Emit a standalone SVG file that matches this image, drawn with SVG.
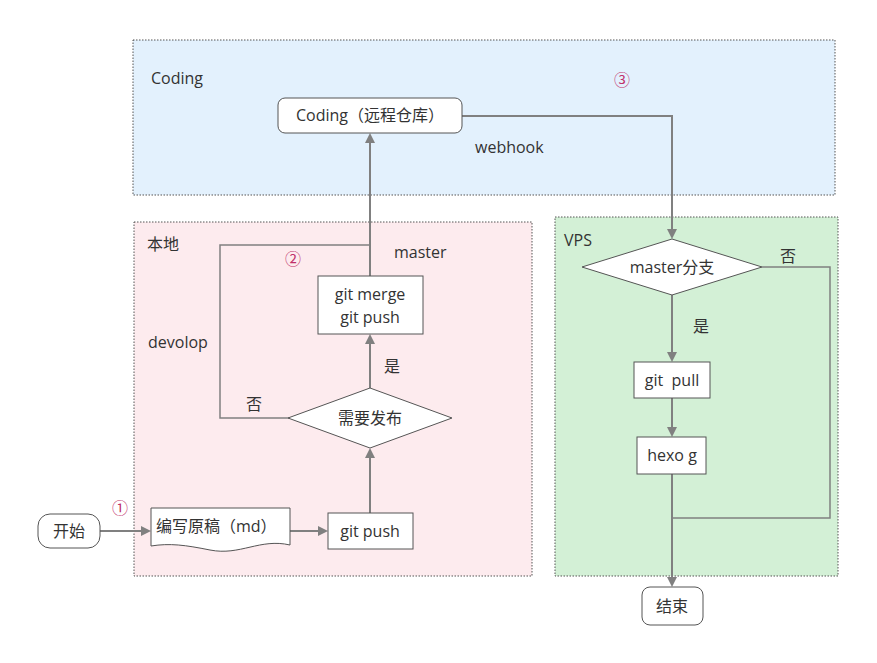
<svg xmlns="http://www.w3.org/2000/svg" width="877" height="663" viewBox="0 0 877 663">
<defs>
<style>
text{font-family:"Open Sans","Noto Sans CJK SC",sans-serif;font-size:16px;fill:#333}
.n{fill:#fff;stroke:#555;stroke-width:1}
.c{fill:none;stroke:#808080;stroke-width:2}
.c1{fill:none;stroke:#808080;stroke-width:1.5}
.g{stroke:#555;stroke-width:1;stroke-dasharray:1.5 1.5}
.m{text-anchor:middle}
.num{fill:#c0306a;font-size:16px}
</style>
<marker id="a" markerWidth="10" markerHeight="10" refX="8" refY="5" orient="auto" markerUnits="userSpaceOnUse"><path d="M0,0 L10,5 L0,10 z" fill="#808080"/></marker>
</defs>
<rect width="877" height="663" fill="#fff"/>
<g id="groups">
<rect x="133" y="40" width="702" height="155" fill="#e3f1fd" class="g"/>
<rect x="134" y="222" width="398" height="354" fill="#fdebee" class="g"/>
<rect x="555" y="217" width="283" height="359" fill="#d3f0d6" class="g"/>
<text x="151" y="84">Coding</text>
<text x="147" y="250">本地</text>
<text x="564" y="246">VPS</text>
</g>
<g id="connectors">
<path class="c" d="M100,531 H149" marker-end="url(#a)"/>
<path class="c" d="M290,531 H326" marker-end="url(#a)"/>
<path class="c" d="M370,513 V450" marker-end="url(#a)"/>
<path class="c" d="M370,388 V336" marker-end="url(#a)"/>
<path class="c" d="M370,276 V135" marker-end="url(#a)"/>
<path class="c1" d="M289,418 H220 V245 H370"/>
<path class="c" d="M462,116 H672 V237" marker-end="url(#a)"/>
<path class="c" d="M672,295 V360" marker-end="url(#a)"/>
<path class="c" d="M672,398 V435" marker-end="url(#a)"/>
<path class="c" d="M672,474 V585" marker-end="url(#a)"/>
<path class="c1" d="M762,267 H830 V518 H672"/>
<text x="475" y="153">webhook</text>
<text x="394" y="258">master</text>
<text x="148" y="348">devolop</text>
<text x="246" y="410">否</text>
<text x="384" y="372">是</text>
<text x="780" y="262">否</text>
<text x="693" y="332">是</text>
<text x="120" y="514" class="num m">①</text>
<text x="293" y="265" class="num m">②</text>
<text x="622" y="86" class="num m">③</text>
</g>
<g id="coding"><rect class="n" x="278" y="98" width="184" height="35" rx="7"/><text class="m" x="370" y="121">Coding（远程仓库）</text></g>
<g id="start"><rect class="n" x="38" y="514" width="62" height="34" rx="12"/><text class="m" x="69" y="537">开始</text></g>
<g id="draft"><path class="n" d="M151,508 H290 V545 C260,538 240,556 210,550 C185,545 170,543 151,546 Z"/><text x="156" y="532">编写原稿（md）</text></g>
<g id="gitpush"><rect class="n" x="328" y="513" width="85" height="36"/><text class="m" x="370" y="537">git push</text></g>
<g id="decide"><path class="n" d="M370,388 L452,418 L370,448 L288,418 Z"/><text class="m" x="370" y="424">需要发布</text></g>
<g id="merge"><rect class="n" x="318" y="276" width="105" height="58"/><text class="m" x="370" y="300">git merge</text><text class="m" x="370" y="323">git push</text></g>
<g id="master"><path class="n" d="M672,239 L762,267 L672,295 L582,267 Z"/><text class="m" x="672" y="273">master分支</text></g>
<g id="pull"><rect class="n" x="634" y="362" width="76" height="36"/><text class="m" x="672" y="386">git&#160; pull</text></g>
<g id="hexo"><rect class="n" x="637" y="437" width="69" height="37"/><text class="m" x="672" y="461">hexo g</text></g>
<g id="end"><rect class="n" x="642" y="587" width="61" height="38" rx="8"/><text class="m" x="672" y="612">结束</text></g>
</svg>
